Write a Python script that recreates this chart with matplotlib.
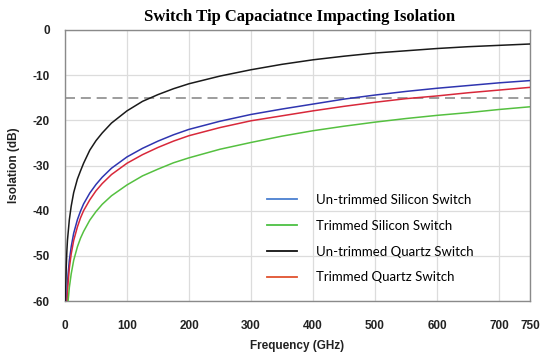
import matplotlib
matplotlib.use("Agg")
import matplotlib.pyplot as plt
from matplotlib.lines import Line2D

# Data (frequency in GHz, isolation in dB)
freq_black = [0.8, 1.2, 2, 3, 4, 5, 7, 10, 14, 20, 25, 30, 40, 50, 60, 75, 100, 125, 150, 175,
              200, 250, 300, 350, 400, 450, 500, 550, 600, 650, 700, 750]
untrimmed_quartz = [-60, -57, -52.5, -49, -46.5, -45, -42, -39, -36, -33, -31.2, -29.5, -26.6, -24.5,
                    -22.8, -20.6, -17.9, -15.8, -14.3, -13.0, -11.9, -10.2, -8.8, -7.6, -6.6, -5.8,
                    -5.1, -4.6, -4.1, -3.7, -3.4, -3.1]

freq_blue = [2.5, 3, 4, 5, 7, 10, 14, 20, 25, 30, 40, 50, 60, 75, 100, 125, 150, 175,
             200, 250, 300, 350, 400, 450, 500, 550, 600, 650, 700, 750]
untrimmed_silicon = [-60, -58.5, -56, -54, -51, -48, -45, -42, -40.1, -38.5, -36.1, -34.2, -32.6,
                     -30.6, -28.1, -26.2, -24.6, -23.2, -22.0, -20.2, -18.7, -17.5, -16.4, -15.3,
                     -14.4, -13.6, -12.9, -12.3, -11.7, -11.2]

freq_red = [3.2, 4, 5, 7, 10, 14, 20, 25, 30, 40, 50, 60, 75, 100, 125, 150, 175,
            200, 250, 300, 350, 400, 450, 500, 550, 600, 650, 700, 750]
trimmed_quartz = [-60, -58, -56, -52.7, -49.6, -46.6, -43.6, -41.6, -40.0, -37.6, -35.6, -34.0,
                  -32.0, -29.5, -27.6, -26.0, -24.6, -23.4, -21.6, -20.1, -19.0, -17.9, -16.9,
                  -16.0, -15.2, -14.6, -13.9, -13.3, -12.7]

freq_green = [5, 6, 7, 10, 14, 20, 25, 30, 40, 50, 60, 75, 100, 125, 150, 175,
              200, 250, 300, 350, 400, 450, 500, 550, 600, 650, 700, 750]
trimmed_silicon = [-60, -58.5, -57, -54, -51, -48, -46.1, -44.6, -42.1, -40.2, -38.6, -36.7,
                   -34.3, -32.3, -30.8, -29.4, -28.3, -26.4, -24.9, -23.5, -22.3, -21.3, -20.4,
                   -19.6, -18.9, -18.3, -17.6, -17.0]

threshold = -15
x_ticks = [0, 100, 200, 300, 400, 500, 600, 700, 750]
y_ticks = [0, -10, -20, -30, -40, -50, -60]
legend_labels = ["Un-trimmed Silicon Switch", "Trimmed Silicon Switch",
                 "Un-trimmed Quartz Switch", "Trimmed Quartz Switch"]

fig = plt.figure(figsize=(5.5, 3.57), dpi=100)
ax = fig.add_axes([65/550, 1 - 301/357, 465/550, 271/357])

ax.plot(freq_black, untrimmed_quartz, color="#1a1a1a", lw=1.1, zorder=3)
ax.plot(freq_blue, untrimmed_silicon, color="#2f35b0", lw=1.1, zorder=3)
ax.plot(freq_red, trimmed_quartz, color="#d8283a", lw=1.1, zorder=3)
ax.plot(freq_green, trimmed_silicon, color="#55c040", lw=1.1, zorder=3)
ax.axhline(threshold, color="#8c8c8c", lw=1.2, ls=(0, (6, 3.5)), zorder=2)

ax.set_xlim(0, 750)
ax.set_ylim(-60, 0)
ax.set_xticks(x_ticks)
ax.set_yticks(y_ticks)
ax.set_xticklabels([str(v) for v in x_ticks])
ax.set_yticklabels([str(v) for v in y_ticks])
ax.grid(True, color="#dcdcdc", lw=0.9)
ax.set_axisbelow(True)
ax.tick_params(axis="x", length=0, pad=13.5, labelsize=8.5)
ax.tick_params(axis="y", length=0, pad=11, labelsize=8.5)
for lab in ax.get_xticklabels() + ax.get_yticklabels():
    lab.set_fontfamily("Liberation Sans")
    lab.set_fontweight("bold")
    lab.set_color("#222222")
for s in ax.spines.values():
    s.set_color("#8a8a8a")
    s.set_linewidth(1.0)

ax.set_xlabel("Frequency (GHz)", fontfamily="Liberation Sans", fontweight="bold",
              fontsize=8.5, labelpad=6, color="#222222")
ax.set_ylabel("Isolation (dB)", fontfamily="Liberation Sans", fontweight="bold",
              fontsize=8.5, labelpad=9, color="#222222")
fig.text(0.545, 1 - 17/357, "Switch Tip Capaciatnce Impacting Isolation",
         ha="center", va="center", fontfamily="Liberation Serif",
         fontweight="bold", fontsize=12)

handles = [Line2D([], [], color="#4a7fd0", lw=1.3),
           Line2D([], [], color="#4cc043", lw=1.3),
           Line2D([], [], color="#111111", lw=1.3),
           Line2D([], [], color="#e0522e", lw=1.3)]
leg = ax.legend(handles, legend_labels, loc="upper left",
                bbox_to_anchor=((255 - 65)/465, (301 - 182)/271),
                frameon=False, handlelength=2.3, handletextpad=1.45,
                labelspacing=1.05, prop={"family": "Lato", "size": 9.5})

fig.savefig("out.png", dpi=100)
